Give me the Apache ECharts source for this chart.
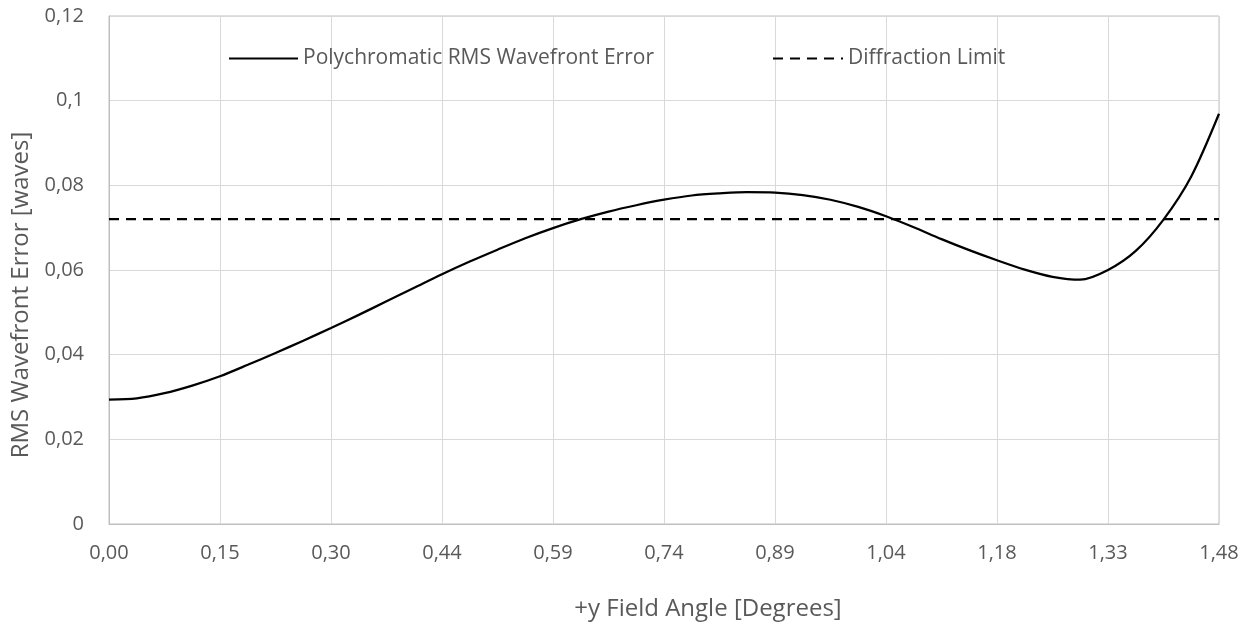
<!DOCTYPE html>
<html>
<head>
<meta charset="utf-8">
<script src="https://cdn.jsdelivr.net/npm/echarts@6/dist/echarts.min.js"></script>
<style>
  html, body { margin: 0; padding: 0; background: #ffffff; }
  #chart { width: 1252px; height: 628px; }
</style>
</head>
<body>
<div id="chart"></div>
<script>
// Field angle (degrees) and polychromatic RMS wavefront error (waves)
const fieldAngles = [0.000, 0.037, 0.074, 0.111, 0.148, 0.185, 0.222, 0.259, 0.296, 0.333, 0.370, 0.407, 0.444, 0.481, 0.518, 0.555, 0.592, 0.629, 0.666, 0.703, 0.740, 0.777, 0.814, 0.851, 0.888, 0.925, 0.962, 0.999, 1.036, 1.073, 1.110, 1.147, 1.184, 1.221, 1.258, 1.295, 1.332, 1.369, 1.406, 1.443, 1.480];
const rmsError    = [0.0294, 0.0297, 0.0309, 0.0327, 0.0349, 0.0376, 0.0404, 0.0433, 0.0463, 0.0494, 0.0526, 0.0558, 0.0590, 0.0620, 0.0648, 0.0675, 0.0699, 0.0720, 0.0738, 0.0753, 0.0766, 0.0776, 0.0781, 0.0784, 0.0783, 0.0777, 0.0766, 0.0749, 0.0727, 0.0701, 0.0673, 0.0647, 0.0623, 0.0601, 0.0584, 0.0577, 0.0600, 0.0645, 0.0719, 0.0821, 0.0969];
// Diffraction limit (waves)
const limitAngles = [0.000, 1.480];
const limitValues = [0.072, 0.072];
// Axis settings
const xMin = 0, xMax = 1.48, xStep = 0.148;
const yMin = 0, yMax = 0.12, yStep = 0.02;
const seriesNames = ['Polychromatic RMS Wavefront Error', 'Diffraction Limit'];
const xTitle = '+y Field Angle [Degrees]';
const yTitle = 'RMS Wavefront Error [waves]';

const FONT = 'Open Sans';
const TXT = '#595959';

const chart = echarts.init(document.getElementById('chart'), null, { renderer: 'canvas' });
chart.setOption({
  animation: false,
  backgroundColor: '#ffffff',
  textStyle: { fontFamily: FONT },
  grid: { left: 109, right: 33, top: 16, bottom: 104, show: true, borderColor: '#bfbfbf', borderWidth: 1, backgroundColor: 'transparent' },
  legend: [
    { data: [seriesNames[0]], left: 223, top: 43, itemWidth: 69, itemHeight: 14, itemGap: 10,
      itemStyle: { opacity: 0 },
      textStyle: { color: TXT, fontSize: 21, fontFamily: FONT } },
    { data: [seriesNames[1]], left: 767, top: 43, itemWidth: 70, itemHeight: 14, itemGap: 10,
      itemStyle: { opacity: 0 },
      textStyle: { color: TXT, fontSize: 21, fontFamily: FONT } }
  ],
  xAxis: {
    type: 'value', min: xMin, max: xMax, interval: xStep,
    name: xTitle, nameLocation: 'middle', nameGap: 73,
    nameTextStyle: { color: TXT, fontSize: 24, fontFamily: FONT, padding: [0, 0, 0, 88] },
    axisLine: { show: true, lineStyle: { color: '#bfbfbf', width: 1 } },
    axisTick: { show: false },
    axisLabel: { color: TXT, fontSize: 20, fontFamily: FONT, margin: 19,
      formatter: v => v.toFixed(2).replace('.', ',') },
    splitLine: { show: true, lineStyle: { color: '#d9d9d9', width: 1 } }
  },
  yAxis: {
    type: 'value', min: yMin, max: yMax, interval: yStep,
    name: yTitle, nameLocation: 'middle', nameGap: 73, nameRotate: 90,
    nameTextStyle: { color: TXT, fontSize: 24, fontFamily: FONT, padding: [0, 50, 0, 0] },
    axisLine: { show: true, lineStyle: { color: '#bfbfbf', width: 1 } },
    axisTick: { show: false },
    axisLabel: { color: TXT, fontSize: 20, fontFamily: FONT, margin: 25,
      formatter: v => String(+v.toFixed(2)).replace('.', ',') },
    splitLine: { show: true, lineStyle: { color: '#d9d9d9', width: 1 } }
  },
  series: [
    {
      name: seriesNames[0], type: 'line', smooth: 0.3, symbol: 'none',
      lineStyle: { color: '#000000', width: 2.25 },
      itemStyle: { color: '#000000' },
      data: fieldAngles.map((x, i) => [x, rmsError[i]]),
      z: 3
    },
    {
      name: seriesNames[1], type: 'line', symbol: 'none',
      lineStyle: { color: '#000000', width: 2.25, type: [10, 7] },
      itemStyle: { color: '#000000' },
      data: limitAngles.map((x, i) => [x, limitValues[i]]),
      z: 2
    }
  ]
});
</script>
</body>
</html>
